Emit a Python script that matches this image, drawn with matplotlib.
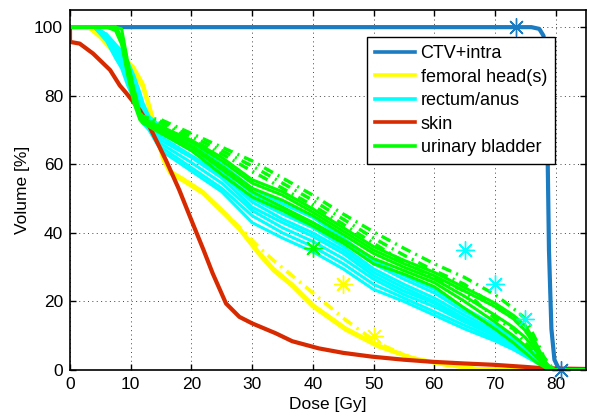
import matplotlib
matplotlib.use("Agg")
import matplotlib.pyplot as plt

plt.rcParams['font.family'] = ['Liberation Sans', 'DejaVu Sans']

# ---- data ----
dose_ctv = [0, 76, 77.3, 78.0, 78.4, 78.7, 78.9, 79.3, 79.8, 80.4, 81]
vol_ctv = [100, 100, 99.5, 97.5, 90, 60, 35, 12, 3, 0.8, 0]

dose_skin = [0, 0, 1.6, 3.8, 6.6, 8.2, 9.3, 11.5, 13.1, 15.8, 18, 20.2, 22, 23.5,
             25.7, 27.9, 30, 33.9, 36.6, 41, 45, 49.7, 55, 59.6, 65, 70, 75, 78, 85]
vol_skin = [100, 95.7, 95.2, 92.3, 87.5, 83, 80.7, 75.8, 71, 61.2, 52.5, 42.8, 35, 28.2,
            19.4, 15.5, 13.6, 10.7, 8.4, 6.3, 5, 3.9, 3, 2.4, 1.9, 1.5, 0.9, 0.5, 0.3]

dose_fem = [0, 3, 5, 7.5, 10.4, 12, 13.1, 14, 15.3, 16.5, 18.6, 21.9, 25.7, 28, 31,
            33.5, 36.6, 40, 45.4, 50.8, 56.3, 61.7, 67, 76, 85]
fem_solid_1 = [100, 100, 97, 92, 87.5, 82.6, 76, 70, 61.5, 57.3, 55.2, 51.5, 45, 40.8, 34,
               29, 24.5, 18.5, 11.7, 6.8, 3.4, 1.5, 0.3, 0, 0]
fem_solid_2 = [100, 100, 98, 93, 88.5, 83.5, 77, 71, 62.5, 58, 55.8, 52, 45.5, 41.2, 34.6,
               29.6, 25, 19, 12.2, 7.2, 3.6, 1.7, 0.4, 0, 0]
fem_dashdot = [100, 100, 97.5, 92.5, 88, 83, 76.5, 70.5, 62, 57.6, 55.5, 51.8, 45.3, 41.5, 36,
               32, 27.5, 22.5, 14.6, 7.7, 3.6, 1.5, 0.3, 0, 0]

dose_grid = [0, 4, 6, 7.5, 8.5, 9.5, 10.5, 11.5, 12, 13, 15, 20, 25, 30, 35, 40, 45, 50,
             55, 60, 65, 70, 73, 75, 77, 78, 79, 80, 85]

rectum = [
    [100, 100, 98, 95, 93, 90, 86, 81, 78, 74, 71, 66, 60, 53, 48.5, 44.5, 38.5, 32, 27.5, 23.5, 18, 13, 10, 7, 4, 2.5, 1, 0, 0],
    [100, 100, 97.5, 94, 92, 89, 85, 80, 77, 73.5, 70, 65, 59, 51.5, 47, 43, 37.5, 31, 26.5, 22.5, 17, 12.5, 9.5, 6.5, 3.7, 2.2, 0.9, 0, 0],
    [100, 100, 97, 93.5, 91.5, 88, 84, 79, 76, 73, 69, 64, 58, 50, 45.5, 41.5, 36, 29.5, 25, 21, 16, 11.5, 9, 6, 3.4, 2, 0.8, 0, 0],
    [100, 100, 97, 93, 90.5, 87, 83, 78, 75, 72.5, 68, 62.5, 57, 49, 44, 40, 35, 28.5, 24, 20, 15, 11, 8, 5.6, 3.1, 1.8, 0.7, 0, 0],
    [100, 100, 96.8, 92.8, 90, 86, 82, 77, 74.5, 72, 67, 62, 56, 47.5, 43, 39, 34, 27.5, 23, 19.5, 14.5, 10.5, 7.6, 5.3, 2.9, 1.7, 0.6, 0, 0],
    [100, 100, 96.6, 92, 89.5, 85, 81, 76, 73.5, 71.5, 66, 60.5, 54.5, 46.5, 41.5, 37.5, 32.5, 26.5, 22, 18.5, 14, 10, 7, 5, 2.6, 1.5, 0.5, 0, 0],
    [100, 100, 96.3, 91.5, 88.5, 84, 80, 75, 73, 71, 65, 59, 53, 45, 40, 36, 31, 25, 21, 17, 13, 9.2, 6.5, 4.5, 2.3, 1.2, 0.4, 0, 0],
    [100, 100, 96, 91, 88, 83, 79, 74, 72, 70, 64, 58, 52, 43, 38.5, 34.5, 29.5, 23.5, 20, 16, 12, 8.5, 6, 4, 2, 1, 0.3, 0, 0],
]

bladder_solid = [
    [100, 100, 100, 100, 99.5, 90, 82, 75, 73, 72.5, 71, 67, 62, 55.5, 52, 47, 41.5, 36, 32, 28.5, 24, 19.5, 16, 13, 7, 3, 1, 0, 0],
    [100, 100, 100, 100, 96.5, 89, 81, 74.5, 72.8, 72, 70.5, 66.5, 61, 54.5, 51, 46, 40.5, 35, 31, 27.5, 23, 18.5, 15, 11.5, 6, 2.5, 0.8, 0, 0],
    [100, 100, 100, 100, 96, 88, 80, 74, 72.5, 71.8, 70, 65.5, 59.5, 53, 49.5, 45, 39.5, 34, 30, 26.5, 21.5, 16, 12.5, 9.5, 5, 2, 0.6, 0, 0],
    [100, 100, 100, 99.5, 95.5, 87, 79, 73.5, 72.2, 71.5, 69.5, 65, 58.5, 52, 47.5, 43, 38, 32.5, 29, 25.5, 20, 14, 10, 7, 3.5, 1.5, 0.3, 0, 0],
    [100, 100, 100, 99, 95, 86, 78, 73, 72, 71, 69, 64, 57, 50.5, 46.5, 42, 37, 31, 28, 24.3, 18, 12, 8, 5, 2, 1, 0, 0, 0],
]
bladder_dashdot = [
    [100, 100, 100, 100, 97, 90, 82, 75, 74, 73.5, 73, 69, 65, 61, 56, 51, 45.5, 40.3, 35.5, 31, 27, 22, 18, 15, 8, 4, 1.5, 0, 0],
    [100, 100, 100, 100, 96.5, 89, 81, 74.5, 73.5, 73, 72.5, 68, 64, 59.5, 54.5, 49.5, 44, 38.5, 33.5, 29, 25, 18.5, 15, 11.5, 6, 2.5, 0.8, 0, 0],
    [100, 100, 100, 100, 96, 88, 80, 74, 73, 72.5, 72, 67, 63, 58, 53, 48, 42.5, 37, 31.5, 27, 23, 15, 12, 8, 4, 1.5, 0, 0, 0],
]

stars_ctv_x = [73.5, 80.8]
stars_ctv_y = [100, 0]
stars_fem_x = [45, 50]
stars_fem_y = [25, 10]
stars_rect_x = [65, 70, 75]
stars_rect_y = [35, 25, 15]
stars_blad_x = [40]
stars_blad_y = [35.5]

labels = ['CTV+intra', 'femoral head(s)', 'rectum/anus', 'skin', 'urinary bladder']
c_ctv = '#1b7cc1'
c_fem = '#ffff00'
c_rect = '#00ffff'
c_skin = '#d82a00'
c_blad = '#00ff00'

# ---- figure ----
fig = plt.figure(figsize=(5.89, 4.20), dpi=100)
ax = fig.add_axes([70 / 589, 50 / 420, 516 / 589, 360 / 420])

lw = 2.2
dd = (0, (3.0, 1.6, 0.6, 1.6))
h_ctv, = ax.plot(dose_ctv, vol_ctv, color=c_ctv, lw=3.0, label=labels[0])
h_fem, = ax.plot(dose_fem, fem_solid_1, color=c_fem, lw=2.6, label=labels[1])
ax.plot(dose_fem, fem_solid_2, color=c_fem, lw=2.6)
ax.plot(dose_fem, fem_dashdot, color=c_fem, lw=2.6, ls=dd)
h_rect = None
for r in rectum:
    h, = ax.plot(dose_grid, r, color=c_rect, lw=lw)
    if h_rect is None:
        h_rect = h
h_skin, = ax.plot(dose_skin, vol_skin, color=c_skin, lw=3.0)
h_blad = None
for b in bladder_solid:
    h, = ax.plot(dose_grid, b, color=c_blad, lw=lw)
    if h_blad is None:
        h_blad = h
for b in bladder_dashdot:
    ax.plot(dose_grid, b, color=c_blad, lw=2.4, ls=dd)

star = (8, 2, 0)
ax.plot(stars_ctv_x, stars_ctv_y, ls='none', marker=star, ms=13, mew=1.0, color=c_ctv, clip_on=False)
ax.plot(stars_fem_x, stars_fem_y, ls='none', marker=star, ms=13, mew=1.0, color=c_fem)
ax.plot(stars_rect_x, stars_rect_y, ls='none', marker=star, ms=13, mew=1.0, color=c_rect)
ax.plot(stars_blad_x, stars_blad_y, ls='none', marker=star, ms=13, mew=1.0, color=c_blad)

ax.set_xlim(0, 85)
ax.set_ylim(0, 105)
ax.set_xticks([0, 10, 20, 30, 40, 50, 60, 70, 80])
ax.set_yticks([0, 20, 40, 60, 80, 100])
ax.tick_params(direction='in', top=True, right=True, length=4, width=1,
               labelsize=12.5, pad=5)
ax.grid(True, color='#444444', ls=(0, (1, 3.5)), lw=0.7)
for s in ax.spines.values():
    s.set_linewidth(1.2)
ax.set_xlabel('Dose [Gy]', fontsize=12.5, labelpad=4)
ax.set_ylabel('Volume [%]', fontsize=12.5, labelpad=3)

leg = ax.legend([h_ctv, h_fem, h_rect, h_skin, h_blad], labels,
                loc='upper right', bbox_to_anchor=(0.94, 0.925), borderaxespad=0,
                fontsize=13, fancybox=False, framealpha=1, edgecolor='black',
                handlelength=2.2, handletextpad=0.3, labelspacing=0.36,
                borderpad=0.45)
leg.get_frame().set_linewidth(1.0)
for lh in leg.get_lines():
    lh.set_linewidth(2.6)

fig.savefig('out.png', dpi=100)
